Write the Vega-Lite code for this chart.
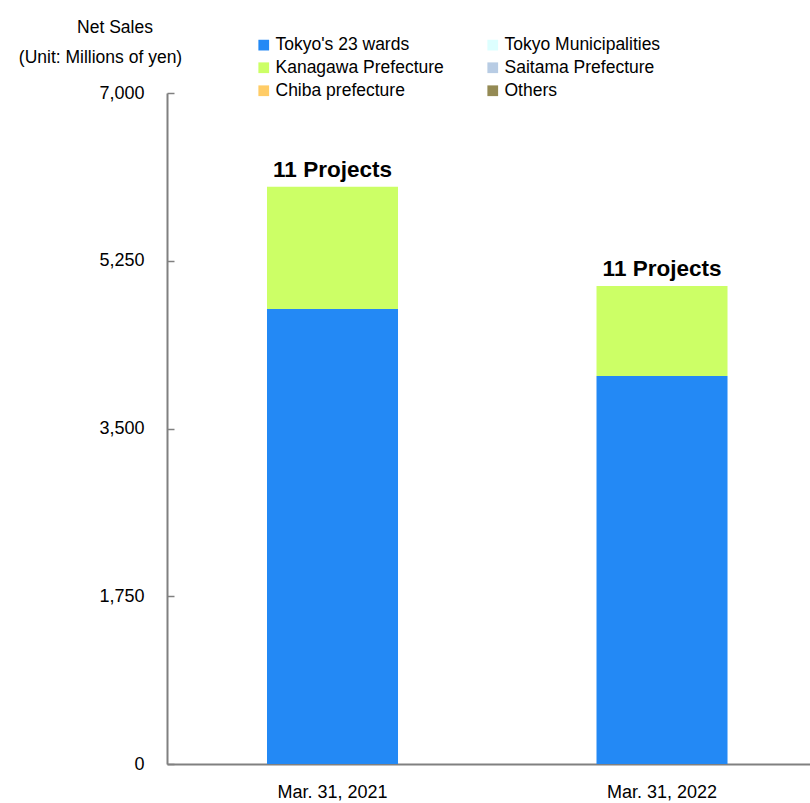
{
  "$schema": "https://vega.github.io/schema/vega-lite/v6.json",
  "autosize": {"type": "none"},
  "padding": {"left": 167, "top": 93, "right": 0, "bottom": 39},
  "width": 643,
  "height": 671,
  "background": "white",
  "config": {
    "view": {"stroke": null},
    "font": "'Liberation Sans Narrow', 'Arial Narrow', 'Liberation Sans', sans-serif"
  },
  "title": {
    "text": "Net Sales",
    "anchor": "start",
    "frame": "group",
    "align": "center",
    "baseline": "alphabetic",
    "dx": -52,
    "offset": -14,
    "fontSize": 17.5,
    "fontWeight": "normal",
    "color": "black",
    "font": "'Liberation Sans Narrow', 'Arial Narrow', 'Liberation Sans', sans-serif"
  },
  "datasets": {
    "sales": [
      {"period": "Mar. 31, 2021", "area": "Tokyo's 23 wards", "value": 4747},
      {"period": "Mar. 31, 2021", "area": "Kanagawa Prefecture", "value": 1275},
      {"period": "Mar. 31, 2022", "area": "Tokyo's 23 wards", "value": 4048},
      {"period": "Mar. 31, 2022", "area": "Kanagawa Prefecture", "value": 938}
    ],
    "totals": [
      {"period": "Mar. 31, 2021", "total": 6022, "label": "11 Projects"},
      {"period": "Mar. 31, 2022", "total": 4986, "label": "11 Projects"}
    ]
  },
  "layer": [
    {
      "data": {"name": "sales"},
      "mark": {"type": "bar"},
      "encoding": {
        "x": {
          "field": "period",
          "type": "nominal",
          "scale": {"paddingInner": 0.6024, "paddingOuter": 0.2769, "align": 0.548},
          "axis": {
            "title": null,
            "labelAngle": 0,
            "labelFontSize": 18,
            "labelColor": "black",
            "labelPadding": 19,
            "ticks": false,
            "domainColor": "#808080",
            "domainWidth": 2
          }
        },
        "y": {
          "field": "value",
          "type": "quantitative",
          "stack": "zero",
          "scale": {"domain": [0, 7000], "nice": false},
          "axis": {
            "title": "(Unit: Millions of yen)",
            "titleAngle": 0,
            "titleAlign": "center",
            "titleBaseline": "alphabetic",
            "titleX": -67,
            "titleY": -31,
            "titleFontSize": 17.5,
            "titleFontWeight": "normal",
            "titleColor": "black",
            "values": [0, 1750, 3500, 5250, 7000],
            "format": ",.0f",
            "grid": false,
            "labelFontSize": 18,
            "labelColor": "black",
            "tickSize": -7,
            "tickColor": "#808080",
            "tickWidth": 1.5,
            "labelPadding": 30,
            "domainColor": "#808080",
            "domainWidth": 2
          }
        },
        "color": {
          "field": "area",
          "type": "nominal",
          "sort": ["Tokyo's 23 wards", "Kanagawa Prefecture", "Chiba prefecture", "Tokyo Municipalities", "Saitama Prefecture", "Others"],
          "scale": {
            "domain": ["Tokyo's 23 wards", "Kanagawa Prefecture", "Chiba prefecture", "Tokyo Municipalities", "Saitama Prefecture", "Others"],
            "range": ["#2389F5", "#CCFF66", "#FFCC66", "#DDFFFF", "#B8CCE4", "#948A54"]
          },
          "legend": {
            "title": null,
            "orient": "none",
            "legendX": 88,
            "legendY": -57,
            "columns": 2,
            "columnPadding": 40,
            "rowPadding": 4,
            "symbolType": "square",
            "symbolSize": 115,
            "symbolStrokeWidth": 0,
            "labelFontSize": 17.5,
            "labelColor": "black",
            "labelOffset": 3,
            "labelLimit": 400
          }
        }
      }
    },
    {
      "data": {"name": "totals"},
      "mark": {"type": "text", "fontSize": 22.5, "fontWeight": "bold", "baseline": "alphabetic", "dy": -10, "color": "black"},
      "encoding": {
        "x": {"field": "period", "type": "nominal"},
        "y": {"field": "total", "type": "quantitative"},
        "text": {"field": "label"}
      }
    }
  ]
}
